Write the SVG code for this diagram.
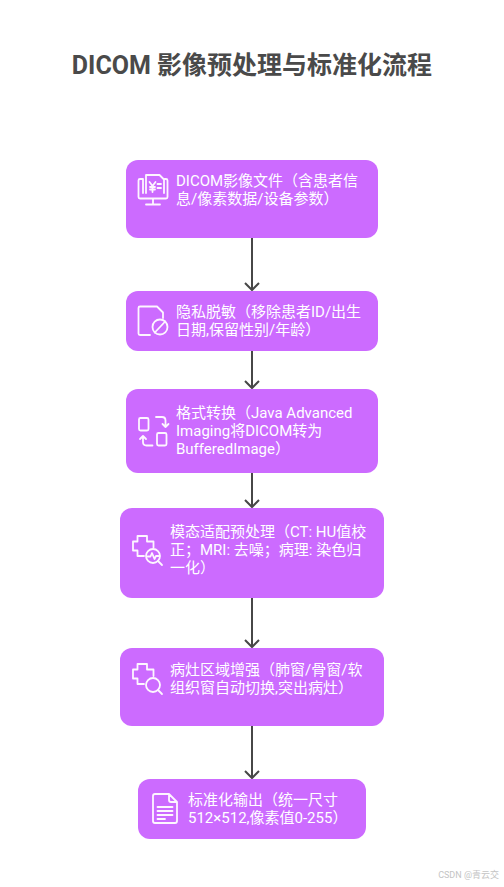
<svg xmlns="http://www.w3.org/2000/svg" width="504" height="887" viewBox="0 0 504 887">
<style>
.n{fill:#cc6bff}
.t{font-family:Roboto,"Noto Sans CJK SC",sans-serif;font-size:15px;font-weight:400;fill:#fff}
.h{font-family:Roboto,"Noto Sans CJK SC",sans-serif;font-size:25px;font-weight:700;fill:#4a4a4a}
.i{fill:none;stroke:#fdf6ff;stroke-width:1.800;stroke-linecap:round;stroke-linejoin:round}
.c{fill:none;stroke:#474747;stroke-width:2}
</style>
<defs><marker id="a" markerWidth="12" markerHeight="16" refX="9.500" refY="8" orient="auto" markerUnits="userSpaceOnUse" viewBox="0 0 12 16"><path d="M2.500 1L9.500 8L2.500 15" fill="none" stroke="#474747" stroke-width="2"/></marker></defs>
<rect width="504" height="887" fill="#fff"/>
<text class="h" x="252" y="74" text-anchor="middle">DICOM 影像预处理与标准化流程</text>
<g id="connectors">
<path class="c" d="M252 238V290" marker-end="url(#a)"/>
<path class="c" d="M252 351V388" marker-end="url(#a)"/>
<path class="c" d="M252 473V507" marker-end="url(#a)"/>
<path class="c" d="M252 598V647" marker-end="url(#a)"/>
<path class="c" d="M252 726V778" marker-end="url(#a)"/>
</g>
<g id="node1"><rect class="n" x="126" y="160" width="252" height="78" rx="12"/>
<path class="i" d="M143 179H140Q138.500 179 138.500 180.500V197Q138.500 198.500 140 198.500H166Q167.500 198.500 167.500 197V180.500Q167.500 179 166 179H164.500M146 193V175H159.500L164 179.500V193M143 179V193M153 198.500V203.500M146 204.500H160M149.500 182L152.500 186L155.500 182M152.500 186V192M150 187H155M150 189.500H155M157.500 184H161M157.500 188H161"/>
<text class="t" x="176" y="186">DICOM影像文件（含患者信</text><text class="t" x="176" y="204">息/像素数据/设备参数）</text></g>
<g id="node2"><rect class="n" x="126" y="291" width="252" height="60" rx="12"/>
<path class="i" d="M150 335H140Q138.500 335 138.500 333.500V308Q138.500 306.500 140 306.500H157L163 312.500V318"/><circle class="i" cx="160" cy="327" r="7.500"/><path class="i" d="M154.800 332.500L165.200 321.500"/>
<text class="t" x="176" y="317">隐私脱敏（移除患者ID/出生</text><text class="t" x="176" y="335">日期,保留性别/年龄）</text></g>
<g id="node3"><rect class="n" x="126" y="389" width="252" height="84" rx="12"/>
<path class="i" d="M140.500 418H147Q148.500 418 148.500 419.500V429Q148.500 430.500 147 430.500H140.500Q139 430.500 139 429V419.500Q139 418 140.500 418ZM158.500 433H165Q166.500 433 166.500 434.500V444Q166.500 445.500 165 445.500H158.500Q157 445.500 157 444V434.500Q157 433 158.500 433ZM156 417H162Q165.500 417 165.500 420.500V427M162.500 424L165.500 427L168.500 424M152.500 445.500H146.500Q143 445.500 143 442V436M140 439L143 436L146 439"/>
<text class="t" x="176" y="418">格式转换（Java Advanced</text><text class="t" x="176" y="436">Imaging将DICOM转为</text><text class="t" x="176" y="454">BufferedImage）</text></g>
<g id="node4"><rect class="n" x="120" y="508" width="264" height="90" rx="12"/>
<path class="i" d="M137.500 541.500V536H147V541.500H153.500V547.500M137.500 541.500H133V550.500H137.500V556H144"/><circle class="i" cx="153" cy="556" r="7"/><path class="i" d="M158 561L162 565M147.500 556.500H150.500L152 553L154.500 559L156 556H158.500"/>
<text class="t" x="170" y="537">模态适配预处理（CT: HU值校</text><text class="t" x="170" y="555">正；MRI: 去噪；病理: 染色归</text><text class="t" x="170" y="573">一化）</text></g>
<g id="node5"><rect class="n" x="120" y="648" width="264" height="78" rx="12"/>
<path class="i" d="M137.500 669.500V664H147V669.500H153.500V676M137.500 669.500H133V678.500H137.500V684H144"/><circle class="i" cx="153" cy="685" r="7"/><path class="i" d="M158 690L162 694"/>
<text class="t" x="170" y="675">病灶区域增强（肺窗/骨窗/软</text><text class="t" x="170" y="693">组织窗自动切换,突出病灶）</text></g>
<g id="node6"><rect class="n" x="138" y="779" width="228" height="60" rx="12"/>
<path class="i" d="M155 794H169L177 802V821Q177 823 175 823H155Q153 823 153 821V796Q153 794 155 794ZM169 794V800Q169 802 171 802H177M157.500 807H172.500M157.500 811H172.500M157.500 815H172.500M157.500 819H165"/>
<text class="t" x="188" y="805">标准化输出（统一尺寸</text><text class="t" x="188" y="823">512×512,像素值0-255）</text></g>
<text x="499" y="878" text-anchor="end" font-family="Roboto,'Noto Sans CJK SC',sans-serif" font-size="9" fill="#c4c4c4">CSDN @青云交</text>
</svg>
